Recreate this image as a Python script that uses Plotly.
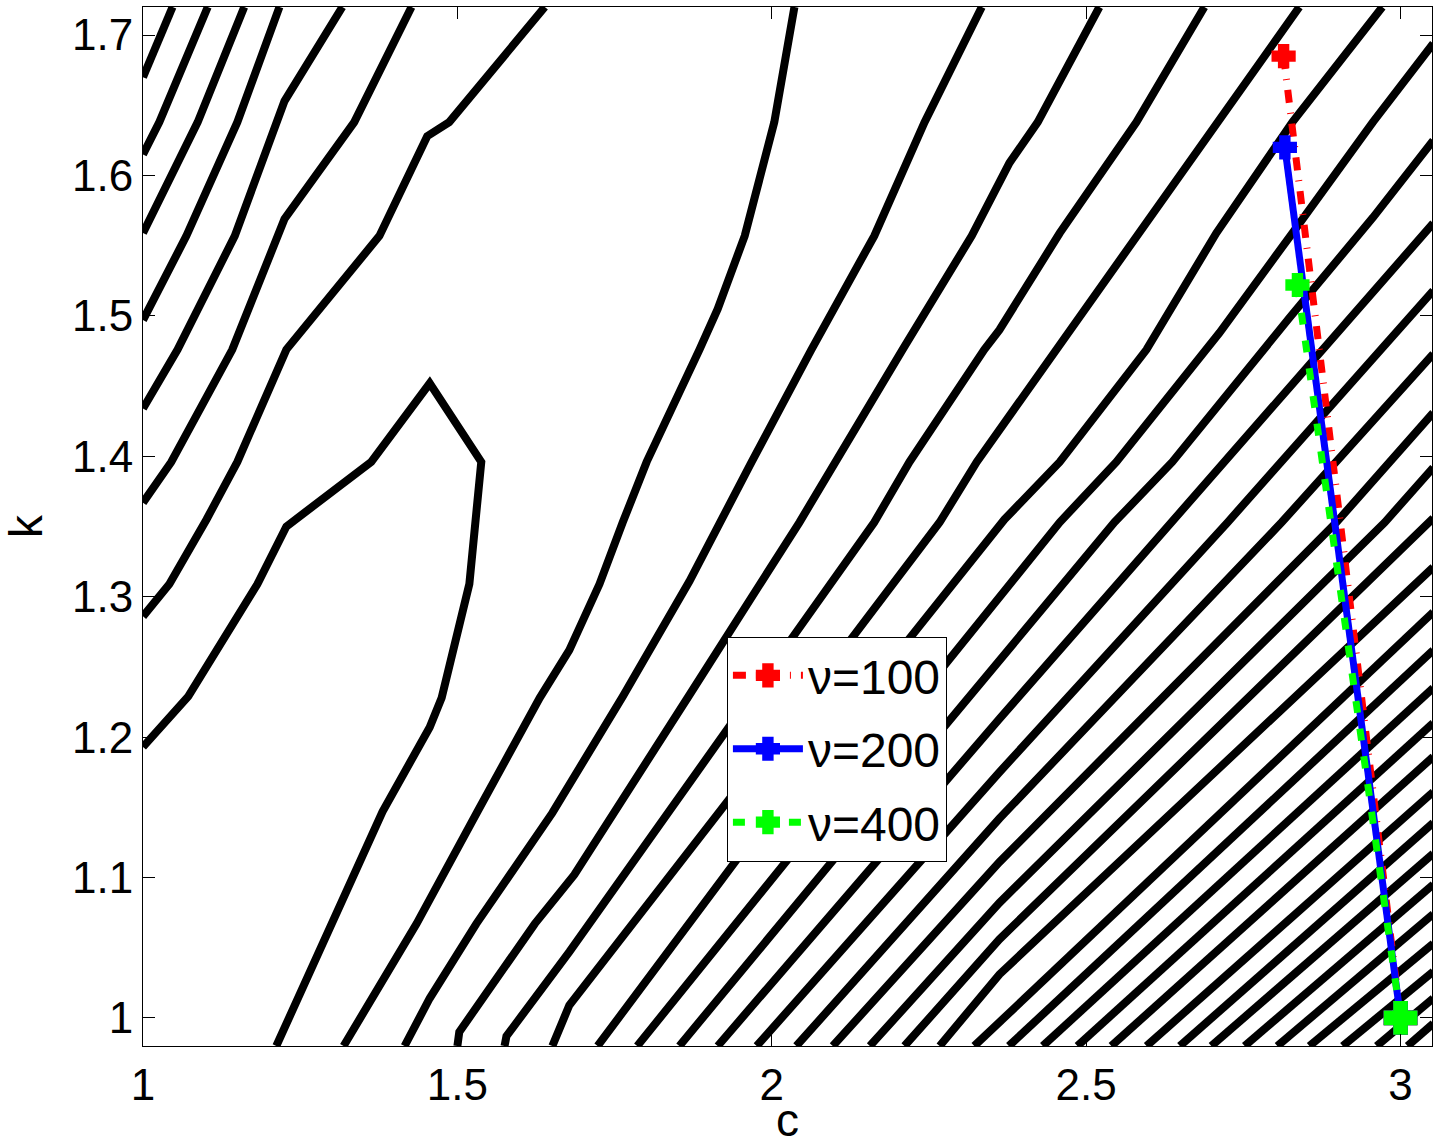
import plotly.graph_objects as go

# ---- axis ticks -------------------------------------------------------------
c_ticks = [1, 1.5, 2, 2.5, 3]
c_tick_text = ["1", "1.5", "2", "2.5", "3"]
k_ticks = [1, 1.1, 1.2, 1.3, 1.4, 1.5, 1.6, 1.7]
k_tick_text = ["1", "1.1", "1.2", "1.3", "1.4", "1.5", "1.6", "1.7"]

# ---- contour lines (c, k) ---------------------------------------------------
c01 = [1.000, 1.047]
k01 = [1.670, 1.720]
c02 = [1.000, 1.026, 1.103]
k02 = [1.615, 1.638, 1.720]
c03 = [1.000, 1.087, 1.161]
k03 = [1.559, 1.638, 1.720]
c04 = [1.000, 1.069, 1.150, 1.217]
k04 = [1.497, 1.557, 1.638, 1.720]
c05 = [1.000, 1.055, 1.146, 1.214, 1.225, 1.317]
k05 = [1.434, 1.476, 1.557, 1.638, 1.653, 1.720]
c06 = [1.000, 1.045, 1.142, 1.214, 1.225, 1.336, 1.427]
k06 = [1.367, 1.396, 1.476, 1.557, 1.569, 1.638, 1.720]
c07 = [1.000, 1.042, 1.101, 1.150, 1.228, 1.376, 1.452, 1.487, 1.639]
k07 = [1.286, 1.309, 1.355, 1.396, 1.476, 1.557, 1.628, 1.638, 1.720]
c08 = [1.000, 1.072, 1.182, 1.228, 1.363, 1.456, 1.538, 1.530, 1.519,
       1.475, 1.456, 1.381, 1.300, 1.228, 1.212]
k08 = [1.193, 1.229, 1.309, 1.350, 1.396, 1.452, 1.396, 1.353, 1.309,
       1.228, 1.207, 1.147, 1.067, 0.999, 0.980]
c09 = [2.036, 2.004, 1.957, 1.914, 1.885, 1.801, 1.763, 1.726, 1.678,
       1.631, 1.532, 1.453, 1.435, 1.319]
k09 = [1.720, 1.638, 1.557, 1.505, 1.476, 1.396, 1.353, 1.309, 1.262,
       1.228, 1.147, 1.083, 1.067, 0.980]
c10 = [2.334, 2.243, 2.163, 2.144, 2.063, 1.968, 1.917, 1.869, 1.763,
       1.682, 1.651, 1.530, 1.456, 1.416]
k10 = [1.720, 1.638, 1.557, 1.542, 1.476, 1.396, 1.353, 1.311, 1.229,
       1.169, 1.146, 1.067, 1.014, 0.980]
c11 = [2.521, 2.423, 2.378, 2.318, 2.208, 2.140, 2.103, 2.044, 1.869,
       1.686, 1.623, 1.503, 1.500]
k11 = [1.720, 1.638, 1.609, 1.557, 1.476, 1.424, 1.396, 1.353, 1.230,
       1.102, 1.067, 0.990, 0.980]
c12 = [2.688, 2.580, 2.458, 2.362, 2.338, 2.219, 2.163, 1.921, 1.678, 1.578, 1.575]
k12 = [1.720, 1.638, 1.559, 1.490, 1.476, 1.396, 1.353, 1.200, 1.047, 0.987, 0.980]
c13 = [2.839, 2.709, 2.585, 2.458, 2.362, 2.326, 2.267, 1.976, 1.678, 1.651]
k13 = [1.720, 1.638, 1.559, 1.478, 1.417, 1.396, 1.353, 1.181, 1.009, 0.980]
c14 = [2.971, 2.828, 2.707, 2.596, 2.458, 2.370, 2.028, 1.723]
k14 = [1.720, 1.638, 1.559, 1.476, 1.396, 1.355, 1.163, 0.980]
c15 = [3.052, 2.956, 2.828, 2.712, 2.548, 2.458, 2.370, 2.079, 1.786]
k15 = [1.694, 1.638, 1.559, 1.488, 1.396, 1.353, 1.304, 1.142, 0.980]
c16 = [3.052, 2.956, 2.824, 2.637, 2.545, 2.362, 2.108, 1.853]
k16 = [1.625, 1.570, 1.499, 1.396, 1.353, 1.255, 1.118, 0.980]
c17 = [3.052, 2.636, 2.362, 1.914]
k17 = [1.566, 1.353, 1.213, 0.980]
c18 = [3.052, 2.725, 2.362, 1.976]
k18 = [1.518, 1.353, 1.175, 0.980]
c19 = [3.052, 2.811, 2.362, 2.039]
k19 = [1.473, 1.353, 1.142, 0.980]
c20 = [3.052, 2.898, 2.362, 2.097]
k20 = [1.431, 1.353, 1.111, 0.980]
c21 = [3.052, 2.975, 2.362, 2.156]
k21 = [1.392, 1.353, 1.082, 0.980]
c22 = [3.052, 2.362, 2.211]
k22 = [1.356, 1.056, 0.980]
c23 = [3.052, 2.362, 2.267]
k23 = [1.321, 1.031, 0.980]
c24 = [3.052, 2.322]
k24 = [1.289, 0.980]
c25 = [3.052, 2.377]
k25 = [1.262, 0.980]
c26 = [3.052, 2.431]
k26 = [1.235, 0.980]
c27 = [3.052, 2.486]
k27 = [1.210, 0.980]
c28 = [3.052, 2.540]
k28 = [1.186, 0.980]
c29 = [3.052, 2.596]
k29 = [1.161, 0.980]
c30 = [3.052, 2.649]
k30 = [1.139, 0.980]
c31 = [3.052, 2.699]
k31 = [1.117, 0.980]
c32 = [3.052, 2.752]
k32 = [1.095, 0.980]
c33 = [3.052, 2.804]
k33 = [1.074, 0.980]
c34 = [3.052, 2.855]
k34 = [1.053, 0.980]
c35 = [3.052, 2.908]
k35 = [1.033, 0.980]
c36 = [3.052, 2.962]
k36 = [1.014, 0.980]
c37 = [3.052, 3.011]
k37 = [0.996, 0.980]

# ---- paths for the three values of nu ---------------------------------------
nu_labels = ["\u03bd=100", "\u03bd=200", "\u03bd=400"]
c_nu100 = [2.814, 3.0]
k_nu100 = [1.685, 1.0]
c_nu200 = [2.816, 3.0]
k_nu200 = [1.620, 1.0]
c_nu400 = [2.836, 3.0]
k_nu400 = [1.522, 1.0]

contours = [
    (c01, k01), (c02, k02), (c03, k03), (c04, k04), (c05, k05), (c06, k06),
    (c07, k07), (c08, k08), (c09, k09), (c10, k10), (c11, k11), (c12, k12),
    (c13, k13), (c14, k14), (c15, k15), (c16, k16), (c17, k17), (c18, k18),
    (c19, k19), (c20, k20), (c21, k21), (c22, k22), (c23, k23), (c24, k24),
    (c25, k25), (c26, k26), (c27, k27), (c28, k28), (c29, k29), (c30, k30),
    (c31, k31), (c32, k32), (c33, k33), (c34, k34), (c35, k35), (c36, k36),
    (c37, k37),
]

FONT = "Liberation Sans, Arial, Helvetica, sans-serif"

fig = go.Figure()

for cs, ks in contours:
    fig.add_trace(go.Scatter(
        x=cs, y=ks, mode="lines",
        line=dict(color="black", width=8),
        showlegend=False, hoverinfo="skip",
    ))

paths = [
    (c_nu100, k_nu100, "#ff0000", "13px,10px,1px,10px", nu_labels[0]),
    (c_nu200, k_nu200, "#0000ff", "solid", nu_labels[1]),
    (c_nu400, k_nu400, "#00ff00", "12px,16px", nu_labels[2]),
]
for cs, ks, col, dash, name in paths:
    fig.add_trace(go.Scatter(
        x=cs, y=ks, mode="lines+markers", name=name, legendgroup=name,
        line=dict(color=col, width=7, dash=dash),
        marker=dict(symbol="cross", size=[16, 24], color=col, opacity=1,
                    line=dict(color=col, width=5)),
    ))

axis_common = dict(
    showgrid=False, zeroline=False, automargin=False,
    showline=True, linecolor="black", linewidth=1, mirror="ticks",
    ticks="inside", ticklen=12, tickwidth=1, tickcolor="black",
    tickfont=dict(family=FONT, size=44, color="black"),
)

fig.update_layout(
    width=1434, height=1146, autosize=False,
    margin=dict(l=143, r=2, t=7, b=100, pad=0),
    paper_bgcolor="white", plot_bgcolor="white",
    font=dict(family=FONT, color="black"),
    xaxis=dict(range=[1, 3.05], tickvals=c_ticks, ticktext=c_tick_text,
               title=dict(text="c", font=dict(family=FONT, size=46), standoff=12),
               **axis_common),
    yaxis=dict(range=[0.98, 1.72], tickvals=k_ticks, ticktext=k_tick_text,
               title=dict(text="k", font=dict(family=FONT, size=46), standoff=14),
               **axis_common),
    legend=dict(x=0.453, y=0.394, xanchor="left", yanchor="top",
                bgcolor="white", bordercolor="black", borderwidth=1,
                font=dict(family=FONT, size=48, color="black"),
                itemwidth=70, tracegroupgap=8),
)

fig.write_html("out.html")
